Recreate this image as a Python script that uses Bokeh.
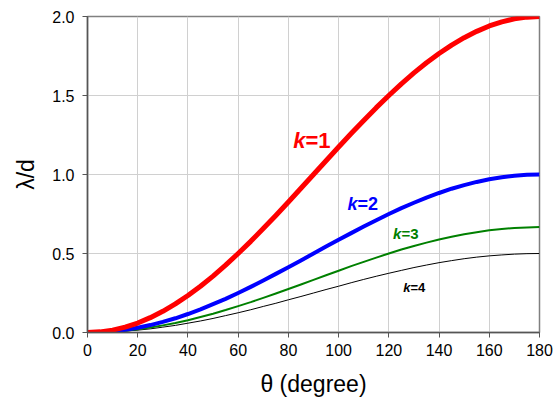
from bokeh.plotting import figure
from bokeh.embed import file_html
from bokeh.resources import INLINE
from bokeh.models import FixedTicker, NumeralTickFormatter, Range1d
from bokeh.core.properties import value

theta = [0, 5, 10, 15, 20, 25, 30, 35, 40, 45, 50, 55, 60, 65, 70, 75, 80, 85, 90,
         95, 100, 105, 110, 115, 120, 125, 130, 135, 140, 145, 150, 155, 160, 165, 170, 175, 180]
k1 = [0.000, 0.004, 0.015, 0.034, 0.060, 0.094, 0.134, 0.181, 0.234, 0.293, 0.357, 0.426, 0.500,
      0.577, 0.658, 0.741, 0.826, 0.913, 1.000, 1.087, 1.174, 1.259, 1.342, 1.423, 1.500, 1.574,
      1.643, 1.707, 1.766, 1.819, 1.866, 1.906, 1.940, 1.966, 1.985, 1.996, 2.000]
k2 = [0.000, 0.002, 0.008, 0.017, 0.030, 0.047, 0.067, 0.090, 0.117, 0.146, 0.179, 0.213, 0.250,
      0.289, 0.329, 0.371, 0.413, 0.456, 0.500, 0.544, 0.587, 0.629, 0.671, 0.711, 0.750, 0.787,
      0.821, 0.854, 0.883, 0.910, 0.933, 0.953, 0.970, 0.983, 0.992, 0.998, 1.000]
k3 = [0.000, 0.001, 0.005, 0.011, 0.020, 0.031, 0.045, 0.060, 0.078, 0.098, 0.119, 0.142, 0.167,
      0.192, 0.219, 0.247, 0.275, 0.304, 0.333, 0.362, 0.391, 0.420, 0.447, 0.474, 0.500, 0.525,
      0.548, 0.569, 0.589, 0.606, 0.622, 0.635, 0.647, 0.655, 0.662, 0.665, 0.667]
k4 = [0.000, 0.001, 0.004, 0.009, 0.015, 0.023, 0.034, 0.045, 0.059, 0.073, 0.089, 0.107, 0.125,
      0.144, 0.165, 0.185, 0.207, 0.228, 0.250, 0.272, 0.293, 0.315, 0.336, 0.356, 0.375, 0.393,
      0.411, 0.427, 0.442, 0.455, 0.467, 0.477, 0.485, 0.491, 0.496, 0.499, 0.500]

x_ticks = [0, 20, 40, 60, 80, 100, 120, 140, 160, 180]
y_ticks = [0.0, 0.5, 1.0, 1.5, 2.0]

labels_k = ["k", "k", "k", "k"]
labels_n = ["=1", "=2", "=3", "=4"]
label_x = [86.8, 107.5, 125.0, 128.6]
label_y = [1.215, 0.816, 0.627, 0.285]
label_sizes = ["22px", "18px", "15px", "13px"]
colors = ["#ff0000", "#0000ff", "#008000", "#000000"]
widths = [5, 4, 2, 1]
series = [k1, k2, k3, k4]

FONT = "Liberation Sans"

p = figure(width=555, height=409, output_backend="svg", toolbar_location=None,
           x_range=Range1d(0, 180), y_range=Range1d(0, 2),
           min_border_left=87, min_border_right=16, min_border_top=16, min_border_bottom=77)

p.outline_line_color = "#808080"
p.outline_line_width = 1.5
p.background_fill_color = "white"
p.border_fill_color = "white"

p.xaxis.ticker = FixedTicker(ticks=x_ticks)
p.yaxis.ticker = FixedTicker(ticks=y_ticks)
p.yaxis.formatter = NumeralTickFormatter(format="0.0")
for ax in [p.xaxis[0], p.yaxis[0]]:
    ax.axis_line_color = "#555555"
    ax.axis_line_width = 1.5
    ax.major_tick_line_color = "#555555"
    ax.major_tick_out = 5
    ax.major_tick_in = 0
    ax.minor_tick_line_color = None
    ax.major_label_text_font = FONT
    ax.major_label_text_font_size = "16px"
    ax.major_label_text_color = "#000000"
    ax.axis_label_text_font = FONT
    ax.axis_label_text_font_size = "23px"
    ax.axis_label_text_font_style = "normal"
    ax.axis_label_text_color = "#000000"

p.xaxis.axis_label = "θ (degree)"
p.yaxis.axis_label = "λ/d"
p.xaxis.axis_label_standoff = 12
p.yaxis.axis_label_standoff = 10
p.xaxis.major_label_standoff = 6
p.yaxis.major_label_standoff = 8

p.xgrid.grid_line_color = "#d0d0d0"
p.ygrid.grid_line_color = "#d0d0d0"
p.xgrid.grid_line_width = 1
p.ygrid.grid_line_width = 1

for i in [3, 2, 1, 0]:
    p.line(theta, series[i], line_color=colors[i], line_width=widths[i], line_join="round")

for i in range(4):
    p.text(x=[label_x[i]], y=[label_y[i]], text=[labels_k[i]], text_color=colors[i],
           text_font=value(FONT), text_font_size=label_sizes[i], text_font_style="bold italic",
           text_align="right", text_baseline="middle")
    p.text(x=[label_x[i]], y=[label_y[i]], text=[labels_n[i]], text_color=colors[i],
           text_font=value(FONT), text_font_size=label_sizes[i], text_font_style="bold",
           text_align="left", text_baseline="middle")

open("out.html", "w").write(file_html(p, INLINE))
